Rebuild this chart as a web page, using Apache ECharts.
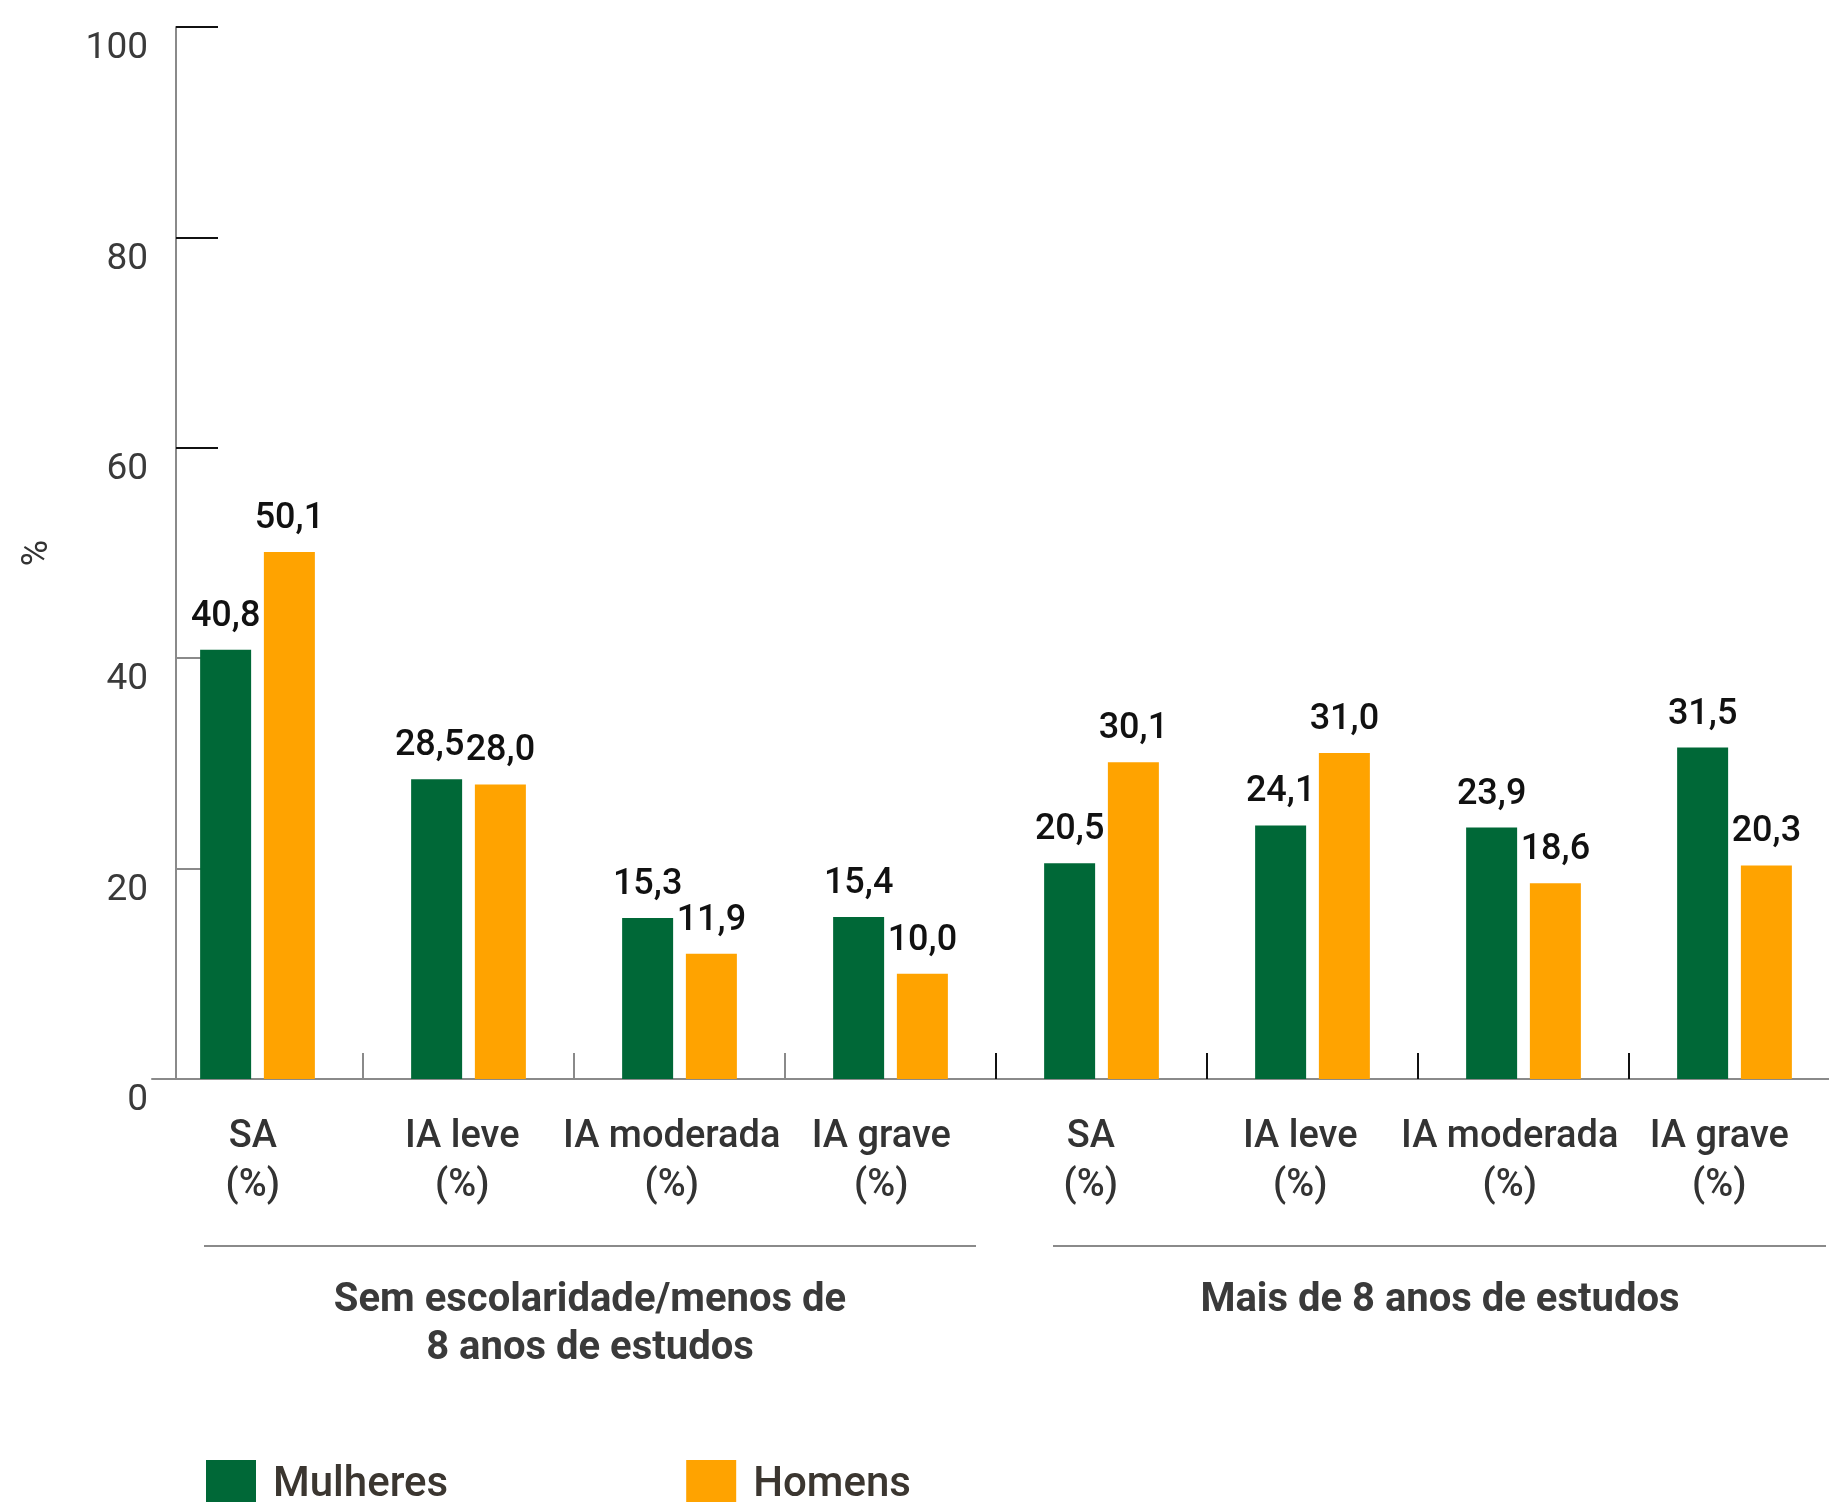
<!DOCTYPE html>
<html>
<head>
<meta charset="utf-8">
<script src="https://cdn.jsdelivr.net/npm/echarts@6/dist/echarts.min.js"></script>
<style>
html,body{margin:0;padding:0;background:#fff;overflow:hidden;}
#c{width:1880px;height:1502px;}
</style>
</head>
<body>
<div id="c"></div>
<script>
// ---- data ----
const categories = ['SA\n(%)', 'IA leve\n(%)', 'IA moderada\n(%)', 'IA grave\n(%)',
                    'SA\n(%)', 'IA leve\n(%)', 'IA moderada\n(%)', 'IA grave\n(%)'];
const mulheres = [40.8, 28.5, 15.3, 15.4, 20.5, 24.1, 23.9, 31.5];
const homens   = [50.1, 28.0, 11.9, 10.0, 30.1, 31.0, 18.6, 20.3];
const seriesNames = ['Mulheres', 'Homens'];
const groups = ['Sem escolaridade/menos de\n8 anos de estudos', 'Mais de 8 anos de estudos'];
const yTicks = [0, 20, 40, 60, 80, 100];

const FONT = 'Roboto';
const fmt = v => v.toFixed(1).replace('.', ',');

const chart = echarts.init(document.getElementById('c'), null, {renderer: 'canvas'});

const labelCfg = {
  show: true, position: 'top', distance: 15,
  fontFamily: FONT, fontSize: 36, fontWeight: 500, color: '#111',
  formatter: p => fmt(p.value)
};

// nudge the green label left where two labels of one category would touch
const mulheresData = mulheres.map((v, i) =>
  (Math.abs(v - homens[i]) < 3) ? {value: v, label: {offset: [-7, 0]}} : v);

chart.setOption({
  backgroundColor: '#fff',
  animation: false,
  textStyle: {fontFamily: FONT},
  grid: [
    {left: 152, top: 27, width: 1688, height: 1052, containLabel: false},
    // grid used only to lay out the category labels
    {left: 148, top: 27, width: 1676, height: 1052, containLabel: false}
  ],
  legend: {
    data: seriesNames,
    left: 206, top: 1460, padding: 0,
    itemWidth: 50, itemHeight: 50, itemGap: 238,
    icon: 'rect',
    textStyle: {fontFamily: FONT, fontSize: 42, fontWeight: 500, color: '#3b3630', padding: [0, 0, 0, 12]}
  },
  xAxis: [
    {
      type: 'category', data: categories, position: 'bottom', gridIndex: 0,
      axisLine: {show: true, lineStyle: {color: '#8a8a8a', width: 2}},
      axisTick: {show: true, inside: true, length: 26, lineStyle: {color: '#8a8a8a', width: 2},
                 interval: (i) => i >= 1 && i <= 3},
      axisLabel: {show: false},
      splitLine: {show: false}
    },
    {
      type: 'category', data: categories, position: 'bottom', gridIndex: 0,
      axisLine: {show: false},
      axisTick: {show: true, inside: true, length: 26, lineStyle: {color: '#111', width: 2},
                 interval: (i) => i >= 4},
      axisLabel: {show: false},
      splitLine: {show: false}
    },
    {
      type: 'category', data: categories, position: 'bottom', gridIndex: 1,
      axisLine: {show: false}, axisTick: {show: false},
      axisLabel: {interval: 0, margin: 34, fontFamily: FONT, fontSize: 38, fontWeight: 500,
                  lineHeight: 49, color: '#333'},
      splitLine: {show: false}
    }
  ],
  yAxis: [
    {
      type: 'value', min: yTicks[0], max: yTicks[yTicks.length - 1], interval: 20,
      position: 'left', offset: -24, gridIndex: 0,
      name: '%', nameLocation: 'middle', nameGap: 120,
      nameTextStyle: {fontFamily: FONT, fontSize: 36, color: '#333'},
      axisLine: {show: true, lineStyle: {color: '#8a8a8a', width: 2}},
      axisTick: {show: true, inside: true, length: 42, lineStyle: {color: '#8a8a8a', width: 2}},
      axisLabel: {margin: 28, fontFamily: FONT, fontSize: 37, color: '#3a3a3a',
                  verticalAlign: 'top', lineHeight: 44},
      splitLine: {show: false}
    },
    {
      // overlay axis carrying the dark ticks of the upper part of the scale
      type: 'category', data: yTicks.map(String), boundaryGap: false,
      position: 'left', offset: -24, gridIndex: 0,
      axisLine: {show: false},
      axisTick: {show: true, inside: true, length: 42, lineStyle: {color: '#111', width: 2},
                 interval: (i) => i >= 3},
      axisLabel: {show: false},
      splitLine: {show: false}
    },
    {type: 'value', gridIndex: 1, show: false, min: 0, max: 100}
  ],
  series: [
    {name: seriesNames[0], type: 'bar', data: mulheresData, barWidth: 51, barGap: '25%',
     xAxisIndex: 0, yAxisIndex: 0,
     itemStyle: {color: '#006837'}, label: labelCfg},
    {name: seriesNames[1], type: 'bar', data: homens, barWidth: 51, barGap: '25%',
     xAxisIndex: 0, yAxisIndex: 0,
     itemStyle: {color: '#FFA300'}, label: labelCfg}
  ],
  graphic: [
    {type: 'line', shape: {x1: 204, y1: 1246, x2: 976, y2: 1246}, style: {stroke: '#8a8a8a', lineWidth: 2}},
    {type: 'line', shape: {x1: 1053, y1: 1246, x2: 1826, y2: 1246}, style: {stroke: '#8a8a8a', lineWidth: 2}},
    {type: 'text', x: 590, y: 1277, style: {text: groups[0], align: 'center', verticalAlign: 'top',
      font: 'bold 40px Roboto', lineHeight: 48, fill: '#3a3a3a'}},
    {type: 'text', x: 1440, y: 1277, style: {text: groups[1], align: 'center', verticalAlign: 'top',
      font: 'bold 40px Roboto', lineHeight: 48, fill: '#3a3a3a'}}
  ]
});
</script>
</body>
</html>
